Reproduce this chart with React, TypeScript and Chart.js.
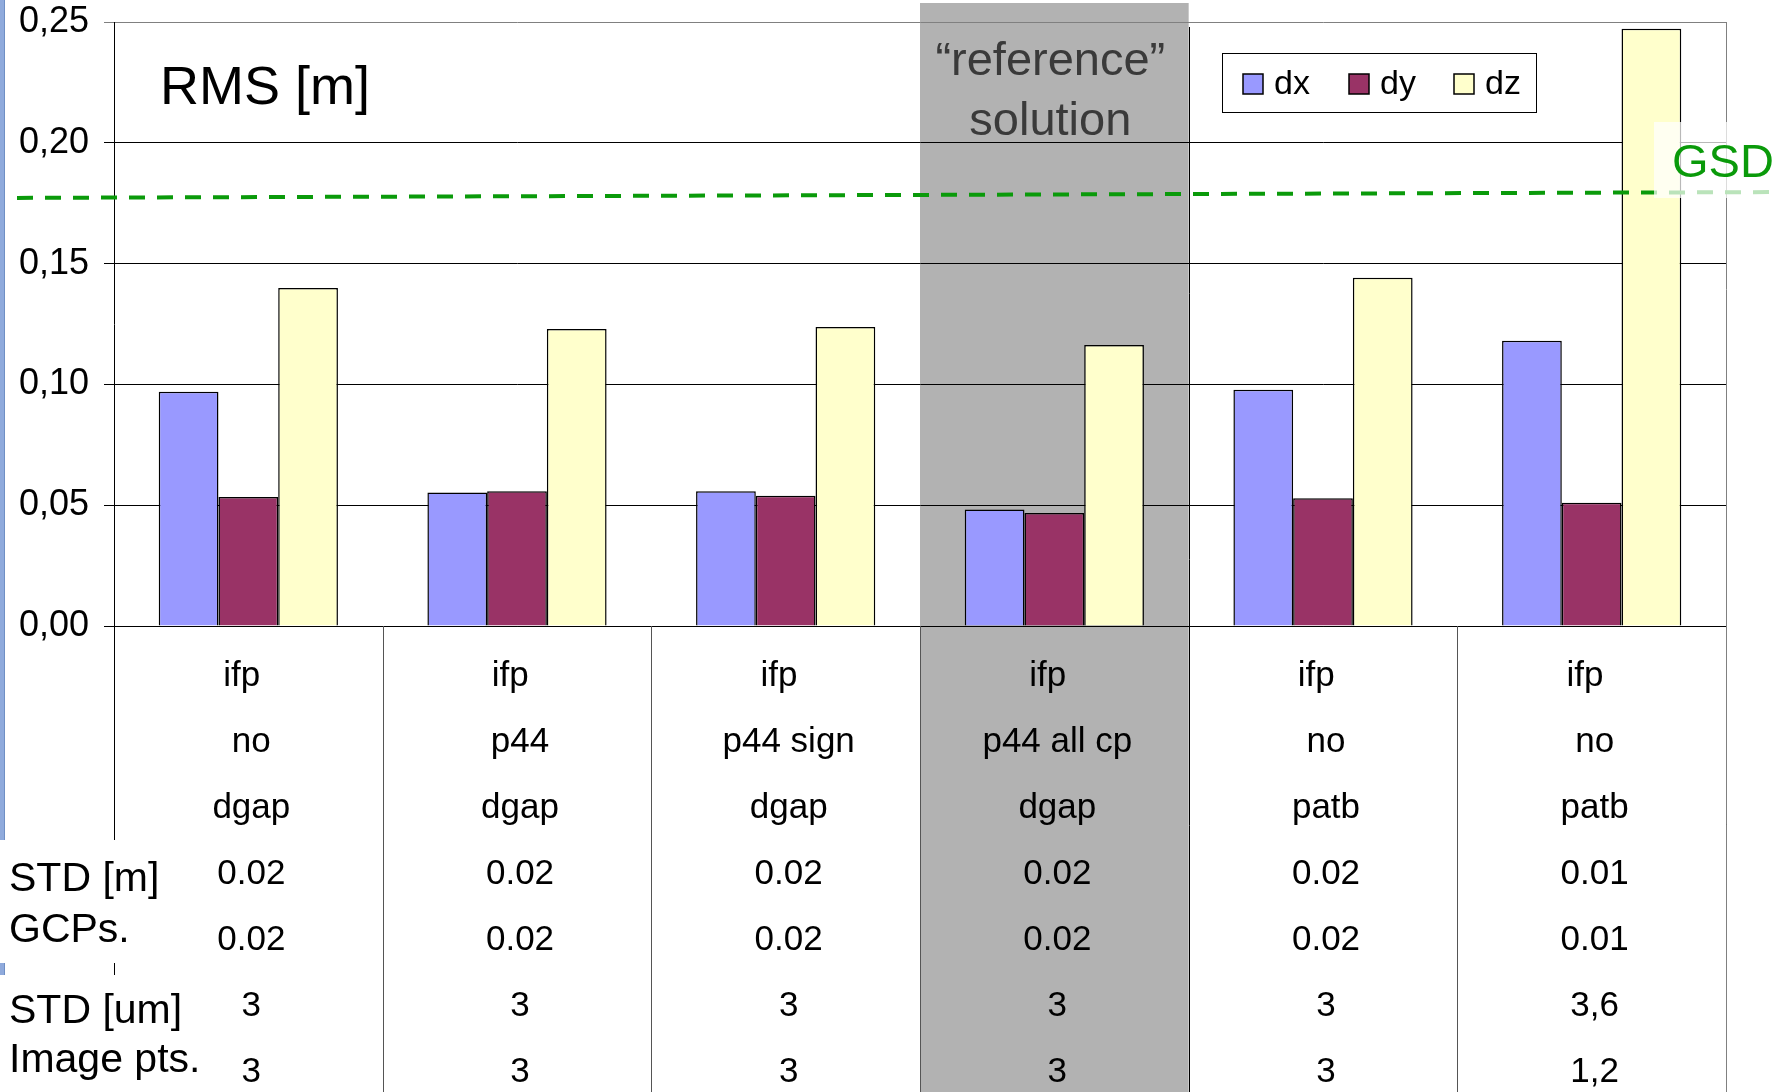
import React, { useEffect, useRef } from 'react';
import { Chart, registerables } from 'chart.js';

Chart.register(...registerables);

// Processing configurations (one column each)
const solverRow = ['ifp', 'ifp', 'ifp', 'ifp', 'ifp', 'ifp'];
const selfCalibrationRow = ['no', 'p44', 'p44 sign', 'p44 all cp', 'no', 'no'];
const softwareRow = ['dgap', 'dgap', 'dgap', 'dgap', 'patb', 'patb'];
const stdGcpRow1 = ['0.02', '0.02', '0.02', '0.02', '0.02', '0.01'];
const stdGcpRow2 = ['0.02', '0.02', '0.02', '0.02', '0.02', '0.01'];
const stdImageRow1 = ['3', '3', '3', '3', '3', '3,6'];
const stdImageRow2 = ['3', '3', '3', '3', '3', '1,2'];

// RMS of check point residuals [m]
const seriesNames = ['dx', 'dy', 'dz'];
const dxValues = [0.097, 0.0553, 0.0558, 0.0482, 0.0978, 0.1181];
const dyValues = [0.0534, 0.0558, 0.0539, 0.0468, 0.0529, 0.051];
const dzValues = [0.1399, 0.1229, 0.1238, 0.1163, 0.1441, 0.2472];
const seriesColors = ['#9999ff', '#993366', '#ffffcc'];

const yTickValues = [0, 0.05, 0.1, 0.15, 0.2, 0.25];

// ground sample distance threshold line (start / end level)
const gsdStart = 0.1772;
const gsdEnd = 0.1796;

const referenceIndex = 3;
const titleText = 'RMS [m]';
const referenceText = ['\u201creference\u201d', 'solution'];
const rowTitles = [['STD [m]', 'GCPs.'], ['STD [um]', 'Image pts.']];

const FONT = '"Liberation Sans", Arial, Helvetica, sans-serif';

const categoryLabels = solverRow.map((s, i) => [
  s + '  ',
  selfCalibrationRow[i],
  softwareRow[i],
  stdGcpRow1[i],
  stdGcpRow2[i],
  stdImageRow1[i],
  stdImageRow2[i],
]);

const decorPlugin = {
  id: 'decor',
  beforeDraw(chart: any) {
    const { ctx, scales } = chart;
    const x = scales.x;
    const half = (x.getPixelForValue(1) - x.getPixelForValue(0)) / 2;
    const cx = x.getPixelForValue(referenceIndex);
    ctx.save();
    // slide edge on the left
    ctx.fillStyle = '#8faadc';
    ctx.fillRect(0, 0, 5, chart.height);
    ctx.fillStyle = '#6f8fc4';
    ctx.fillRect(4, 0, 1, chart.height);
    // highlighted reference column
    ctx.fillStyle = '#b2b2b2';
    ctx.fillRect(cx - half, 3, half * 2, chart.height - 3);
    ctx.restore();
  },
  afterDatasetsDraw(chart: any) {
    const { ctx, chartArea, scales } = chart;
    const x = scales.x;
    const y = scales.y;
    const half = (x.getPixelForValue(1) - x.getPixelForValue(0)) / 2;
    const H = chart.height;
    ctx.save();

    // table grid below the plot
    for (let i = 0; i < solverRow.length; i++) {
      const bx = Math.round(x.getPixelForValue(i) + half) + 0.5;
      ctx.strokeStyle = i === referenceIndex ? '#000' : '#555';
      ctx.lineWidth = 1;
      ctx.beginPath();
      ctx.moveTo(bx, i === referenceIndex ? chartArea.top + 5 : chartArea.bottom);
      ctx.lineTo(bx, H);
      ctx.stroke();
    }
    // right border
    ctx.strokeStyle = '#808080';
    ctx.beginPath();
    ctx.moveTo(Math.round(chartArea.right) + 0.5, chartArea.top);
    ctx.lineTo(Math.round(chartArea.right) + 0.5, H);
    ctx.stroke();
    // value axis continues down the table
    ctx.strokeStyle = '#000';
    ctx.beginPath();
    ctx.moveTo(Math.round(chartArea.left) + 0.5, chartArea.bottom);
    ctx.lineTo(Math.round(chartArea.left) + 0.5, H);
    ctx.stroke();

    // GSD threshold
    const x0 = 17;
    const x1 = 1774;
    const ya = y.getPixelForValue(gsdStart);
    const yb = y.getPixelForValue(gsdEnd);
    ctx.strokeStyle = '#0a9a0a';
    ctx.lineWidth = 4;
    ctx.setLineDash([16, 12]);
    ctx.beginPath();
    ctx.moveTo(x0, ya);
    ctx.lineTo(x1, yb);
    ctx.stroke();
    ctx.setLineDash([]);
    ctx.fillStyle = 'rgba(255,255,255,0.72)';
    ctx.fillRect(1654, 122, chart.width - 1654, 76);
    ctx.fillStyle = '#0a9a0a';
    ctx.font = `47px ${FONT}`;
    ctx.textAlign = 'left';
    ctx.textBaseline = 'middle';
    ctx.fillText('GSD', 1672, 164);

    // title
    ctx.fillStyle = '#000';
    ctx.font = `54px ${FONT}`;
    ctx.fillText(titleText, 160, 89);

    // reference column caption
    const rc = x.getPixelForValue(referenceIndex) - 4;
    ctx.fillStyle = '#3a3a3a';
    ctx.font = `47px ${FONT}`;
    ctx.textAlign = 'center';
    ctx.fillText(referenceText[0], rc, 62);
    ctx.fillText(referenceText[1], rc, 122);

    // legend
    const lx = 1222;
    const ly = 53;
    ctx.fillStyle = '#fff';
    ctx.fillRect(lx, ly, 314, 59);
    ctx.strokeStyle = '#000';
    ctx.lineWidth = 1;
    ctx.strokeRect(lx + 0.5, ly + 0.5, 314, 59);
    const itemX = [1243, 1349, 1454];
    ctx.font = `34px ${FONT}`;
    ctx.textAlign = 'left';
    chart.data.datasets.forEach((ds: any, i: number) => {
      ctx.fillStyle = ds.backgroundColor;
      ctx.fillRect(itemX[i], 74, 20, 20);
      ctx.lineWidth = 1.5;
      ctx.strokeStyle = '#000';
      ctx.strokeRect(itemX[i], 74, 20, 20);
      ctx.fillStyle = '#000';
      ctx.fillText(ds.label, itemX[i] + 31, 85);
    });

    // row captions of the table
    ctx.fillStyle = '#fff';
    ctx.fillRect(0, 840, 172, 123);
    ctx.fillRect(0, 975, 205, H - 975);
    ctx.fillStyle = '#000';
    ctx.font = `41px ${FONT}`;
    ctx.textAlign = 'left';
    ctx.fillText(rowTitles[0][0], 9, 880);
    ctx.fillText(rowTitles[0][1], 9, 931);
    ctx.fillText(rowTitles[1][0], 9, 1012);
    ctx.fillText(rowTitles[1][1], 9, 1061);

    ctx.restore();
  },
};

export default function App() {
  const canvasRef = useRef<HTMLCanvasElement | null>(null);

  useEffect(() => {
    const canvas = canvasRef.current;
    if (!canvas) return;
    const chart = new Chart(canvas, {
      type: 'bar',
      data: {
        labels: categoryLabels,
        datasets: [dxValues, dyValues, dzValues].map((values, i) => ({
          label: seriesNames[i],
          data: values,
          backgroundColor: seriesColors[i],
          borderColor: '#000',
          borderWidth: 1.5,
          categoryPercentage: 0.667,
          barPercentage: 1,
        })),
      },
      options: {
        responsive: false,
        animation: false,
        devicePixelRatio: 1,
        layout: { padding: { top: 22, right: 66, left: 0, bottom: 0 } },
        plugins: {
          legend: { display: false },
          tooltip: { enabled: false },
        },
        scales: {
          x: {
            grid: { display: false, drawTicks: false },
            border: { display: true, color: '#000', width: 1 },
            ticks: {
              color: '#000',
              font: { family: FONT, size: 35, lineHeight: '66px' },
              padding: 17,
              labelOffset: 3,
              maxRotation: 0,
              autoSkip: false,
            },
            afterFit: (s: any) => {
              s.height = 466;
              s.paddingLeft = 0;
              s.paddingRight = 0;
            },
          },
          y: {
            min: 0,
            max: 0.25,
            afterBuildTicks: (s: any) => {
              s.ticks = yTickValues.map((v) => ({ value: v }));
            },
            grid: {
              color: (c: any) => (c.tick && c.tick.value === 0.25 ? '#808080' : '#000'),
              lineWidth: 1,
              tickLength: 10,
            },
            border: { display: true, color: '#000', width: 1 },
            ticks: {
              color: '#000',
              font: { family: FONT, size: 36 },
              padding: 15,
              callback: (v: any) => Number(v).toFixed(2).replace('.', ','),
            },
            afterFit: (s: any) => {
              s.width = 114;
              s.paddingTop = 0;
              s.paddingBottom = 0;
            },
          },
        },
      },
      plugins: [decorPlugin],
    });
    return () => chart.destroy();
  }, []);

  return (
    <div style={{ position: 'absolute', left: 0, top: 0, width: 1792, height: 1092, background: '#fff' }}>
      <canvas ref={canvasRef} width={1792} height={1092} style={{ width: 1792, height: 1092, display: 'block' }} />
    </div>
  );
}
